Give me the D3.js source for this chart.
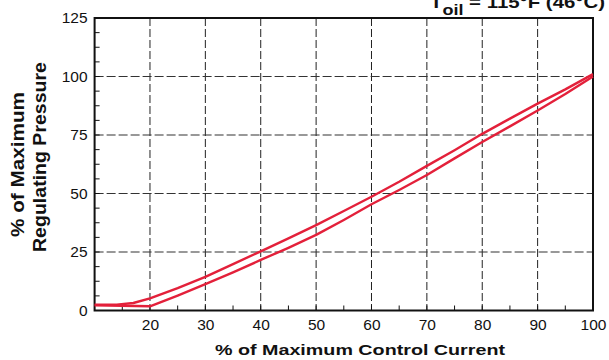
<!DOCTYPE html>
<html><head><meta charset="utf-8">
<script src="https://cdn.jsdelivr.net/npm/d3@7"></script>
<style>body{margin:0;background:#fff}svg{display:block}</style>
</head><body>
<svg id="c" width="609" height="360"></svg>
<script>
const xTicks = [20,30,40,50,60,70,80,90,100];
const yTicks = [0,25,50,75,100,125];
const upperX = [10,14,17,20,25,30,35,40,45,50,55,60,65,70,75,80,85,90,95,100];
const upperY = [2.5,2.5,3.2,5.2,9.6,14.4,19.8,25.3,30.8,36.5,42.5,48.6,55,61.8,68.5,75.5,82,88.4,94.5,101];
const lowerX = [10,15,20,25,30,35,40,45,50,55,60,65,70,75,80,85,90,95,100];
const lowerY = [2.2,2.0,1.8,6.4,11.3,16.3,21.6,26.8,32.3,38.7,45.4,51.5,57.9,65,72,78.7,85.5,92.5,100];

const svg = d3.select("#c");
const L=94.6, R=593, T=18, B=310.5;
const x = d3.scaleLinear().domain([10,100]).range([L,R]);
const y = d3.scaleLinear().domain([0,125]).range([B,T]);
const font = "'Liberation Sans', Arial, Helvetica, sans-serif";

// grid
const g = svg.append("g");
g.selectAll(".gx").data(xTicks.filter(d=>d<100)).enter().append("line")
  .attr("x1",d=>x(d)).attr("x2",d=>x(d)).attr("y1",T).attr("y2",B)
  .attr("stroke","#222").attr("stroke-width",1).attr("stroke-dasharray","8,3");
g.selectAll(".gy").data(yTicks.filter(d=>d>0&&d<125)).enter().append("line")
  .attr("y1",d=>y(d)).attr("y2",d=>y(d)).attr("x1",L).attr("x2",R)
  .attr("stroke","#333").attr("stroke-width",1.2).attr("stroke-dasharray","9,3");

// axes
const xAxis = d3.axisBottom(x).tickValues(xTicks).tickSize(0).tickPadding(8);
const xa = svg.append("g").attr("transform",`translate(0,${B})`).call(xAxis);
xa.select(".domain").remove();
xa.selectAll("text").attr("font-family",font).attr("font-size",15.5).attr("fill","#111");
const yAxis = d3.axisLeft(y).tickValues(yTicks).tickSize(0).tickPadding(7);
const ya = svg.append("g").attr("transform",`translate(${L},0)`).call(yAxis);
ya.select(".domain").remove();
ya.selectAll("text").attr("font-family",font).attr("font-size",15.5).attr("fill","#111");

// minor ticks inward
const xMinor = d3.range(15,100,5);
svg.selectAll(".mx").data(xMinor).enter().append("line")
  .attr("x1",d=>x(d)).attr("x2",d=>x(d)).attr("y1",B).attr("y2",B-5)
  .attr("stroke","#111").attr("stroke-width",1);
const yMinor = d3.range(0,125,6.25);
svg.selectAll(".my").data(yMinor).enter().append("line")
  .attr("y1",d=>y(d)).attr("y2",d=>y(d)).attr("x1",L).attr("x2",L+5)
  .attr("stroke","#111").attr("stroke-width",1);

// frame
svg.append("rect").attr("x",L).attr("y",T).attr("width",R-L).attr("height",B-T)
  .attr("fill","none").attr("stroke","#111").attr("stroke-width",2);

// curves
const line = d3.line().x(d=>x(d[0])).y(d=>y(d[1])).curve(d3.curveLinear);
const up = upperX.map((v,i)=>[v,upperY[i]]);
const lo = lowerX.map((v,i)=>[v,lowerY[i]]);
[up,lo].forEach(d=>{
  svg.append("path").datum(d).attr("d",line).attr("fill","none")
    .attr("stroke","#e3203a").attr("stroke-width",2.4).attr("stroke-linejoin","round");
});

// labels
svg.append("text").attr("x",360).attr("y",355).attr("text-anchor","middle")
  .attr("font-family",font).attr("font-weight","bold").attr("font-size",15.5).attr("fill","#111")
  .attr("textLength",290).attr("lengthAdjust","spacingAndGlyphs")
  .text("% of Maximum Control Current");
svg.append("text").attr("transform",`translate(24,164.5) rotate(-90)`)
  .attr("text-anchor","middle").attr("font-family",font).attr("font-weight","bold")
  .attr("font-size",18).attr("fill","#111").attr("textLength",145).attr("lengthAdjust","spacingAndGlyphs")
  .text("% of Maximum");
svg.append("text").attr("transform",`translate(46,157) rotate(-90)`)
  .attr("text-anchor","middle").attr("font-family",font).attr("font-weight","bold")
  .attr("font-size",18).attr("fill","#111").attr("textLength",190).attr("lengthAdjust","spacingAndGlyphs")
  .text("Regulating Pressure");

const t = svg.append("text").attr("x",517.5).attr("y",8).attr("text-anchor","middle")
  .attr("font-family",font).attr("font-weight","bold").attr("font-size",17).attr("fill","#111")
  .attr("textLength",175).attr("lengthAdjust","spacingAndGlyphs");
t.append("tspan").text("T");
t.append("tspan").attr("font-size",15).attr("dy",7).text("oil");
t.append("tspan").attr("dy",-7).text(" = 115°F (46°C)");
</script>
</body></html>
